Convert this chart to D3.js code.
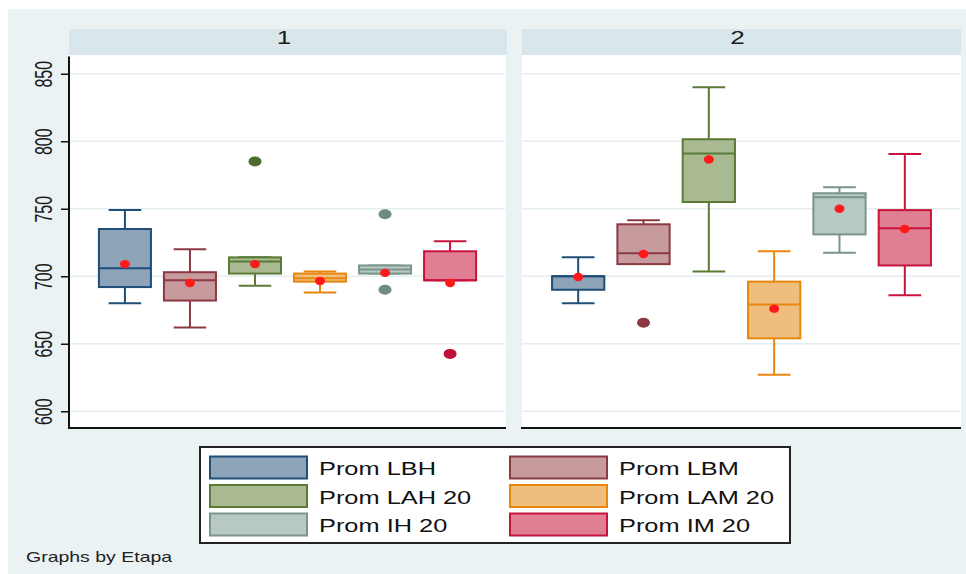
<!DOCTYPE html>
<html>
<head>
<meta charset="utf-8">
<script src="https://cdn.jsdelivr.net/npm/d3@7"></script>
<style>
  body { margin: 0; background: #fff; }
  svg { display: block; font-family: "Liberation Sans", Arial, sans-serif; }
</style>
</head>
<body>
<div id="chart"></div>
<script>
// panels (Etapa) and series
const etapas = ["1", "2"];
const series = ["Prom LBH", "Prom LBM", "Prom LAH 20", "Prom LAM 20", "Prom IH 20", "Prom IM 20"];
const yTicks = [600, 650, 700, 750, 800, 850];

// box statistics, one row per etapa, one value per series
const whiskerLow = [[680, 662, 693, 688, 702, 697], [680, 709, 703.5, 627, 717.5, 686]];
const q1 = [[692, 682, 702, 696, 702, 697], [690, 709, 755, 654, 731, 708]];
const median = [[706, 697, 711, 698.5, 705, 697], [700, 717, 791, 679, 758.5, 735.5]];
const q3 = [[735, 703, 714, 702, 708, 718.5], [700, 738.5, 801.5, 696, 761.5, 749]];
const whiskerHigh = [[749, 720, 714, 703.5, 708, 726], [714, 741.5, 840, 718.5, 766, 790.5]];
const means = [[709, 695, 709, 696.5, 702.5, 695], [699.5, 716.5, 786.5, 676, 750, 735]];
const outliers = [[[], [], [785], [], [746, 690], [642.5]], [[], [665.5], [], [], [], []]];

const strokeColors = ["#1f4e79", "#8b3a42", "#5a7a35", "#e8870f", "#7a958b", "#c8143c"];
const fillColors = ["#8da3b8", "#c79a9e", "#a9ba92", "#f0be7c", "#b8c9c4", "#e07f94"];
const outlierColors = ["#1f4e79", "#8b3a42", "#4e6b2e", "#e8870f", "#6f8c82", "#c0103a"];

const W = 966, H = 574, SX = 1.45;
const svg = d3.select("#chart").append("svg").attr("width", W).attr("height", H);

svg.append("rect").attr("x", 8).attr("y", 9).attr("width", W - 8).attr("height", H - 9).attr("fill", "#eaf2f3");

const y = d3.scaleLinear().domain([587.6, 863.9]).range([428, 55]);
const panels = [{ x0: 69, x1: 506, s0: 69, s1: 507 }, { x0: 522, x1: 961, s0: 522, s1: 961 }];

etapas.forEach((et, p) => {
    const pn = panels[p];
    const g = svg.append("g");
    const x = d3.scalePoint().domain(series).range([pn.x0, pn.x1]).padding(0.86);
    const bw = x.step() * 0.8, cw = x.step() * 0.5;

    g.append("rect").attr("x", pn.s0).attr("y", 29).attr("width", pn.s1 - pn.s0).attr("height", 26).attr("fill", "#d9e6ec");
    g.append("rect").attr("x", pn.x0).attr("y", 55).attr("width", pn.x1 - pn.x0).attr("height", 373).attr("fill", "#fff");
    g.append("text")
        .attr("transform", `translate(${(pn.s0 + pn.s1) / 2 - 4},43.5) scale(${SX},1)`)
        .attr("text-anchor", "middle").style("font-size", "18px").attr("fill", "#1a1a1a").text(et);

    // gridlines
    g.selectAll(".grid").data(yTicks).enter().append("line")
        .attr("x1", pn.x0).attr("x2", pn.x1 - 1)
        .attr("y1", d => y(d)).attr("y2", d => y(d))
        .attr("stroke", "#e4eef1").attr("stroke-width", 1.5);

    if (p === 0) {
        const ax = g.append("g").attr("transform", `translate(${pn.x0},0)`)
            .call(d3.axisLeft(y).tickValues(yTicks).tickSize(8).tickSizeOuter(0));
        ax.select(".domain").attr("stroke", "#111").attr("stroke-width", 2).attr("d", `M0,56.5V428`);
        ax.selectAll(".tick line").attr("stroke", "#111").attr("stroke-width", 1.5);
        ax.selectAll(".tick text")
            .attr("x", null).attr("dy", null)
            .attr("transform", `translate(-17,0) scale(${SX},1) rotate(-90)`)
            .attr("text-anchor", "middle")
            .style("font-size", "16px").attr("fill", "#1a1a1a");
    }
    g.append("line").attr("x1", pn.x0 - 1).attr("x2", pn.x1).attr("y1", 428).attr("y2", 428)
        .attr("stroke", "#111").attr("stroke-width", 2);

    series.forEach((s, i) => {
        const cx = x(s);
        const sc = strokeColors[i];
        const bg = g.append("g");
        // whiskers
        bg.append("line").attr("x1", cx).attr("x2", cx).attr("y1", y(q3[p][i])).attr("y2", y(whiskerHigh[p][i])).attr("stroke", sc).attr("stroke-width", 2);
        bg.append("line").attr("x1", cx).attr("x2", cx).attr("y1", y(q1[p][i])).attr("y2", y(whiskerLow[p][i])).attr("stroke", sc).attr("stroke-width", 2);
        [whiskerHigh[p][i], whiskerLow[p][i]].forEach(v => {
            bg.append("line").attr("x1", cx - cw / 2).attr("x2", cx + cw / 2).attr("y1", y(v)).attr("y2", y(v)).attr("stroke", sc).attr("stroke-width", 2);
        });
        // box
        bg.append("rect").attr("x", cx - bw / 2).attr("width", bw)
            .attr("y", y(q3[p][i])).attr("height", Math.max(1, y(q1[p][i]) - y(q3[p][i])))
            .attr("fill", fillColors[i]).attr("stroke", sc).attr("stroke-width", 2);
        bg.append("line").attr("x1", cx - bw / 2).attr("x2", cx + bw / 2).attr("y1", y(median[p][i])).attr("y2", y(median[p][i])).attr("stroke", sc).attr("stroke-width", 2);
        // outliers
        bg.selectAll(".out").data(outliers[p][i]).enter().append("ellipse")
            .attr("cx", cx).attr("cy", d => y(d)).attr("rx", 6.5).attr("ry", 5).attr("fill", outlierColors[i]);
        // mean
        bg.append("ellipse").attr("cx", cx).attr("cy", y(means[p][i])).attr("rx", 5).attr("ry", 4.2).attr("fill", "#ff1a1a");
    });
});

// legend
const lg = svg.append("g");
lg.append("rect").attr("x", 200).attr("y", 447).attr("width", 590).attr("height", 96)
    .attr("fill", "#fff").attr("stroke", "#222").attr("stroke-width", 2);
const colX = [210, 510], rowY = [456.5, 485, 513.5];
series.forEach((s, i) => {
    const cx = colX[i % 2], ry = rowY[Math.floor(i / 2)];
    lg.append("rect").attr("x", cx).attr("y", ry).attr("width", 97).attr("height", 22)
        .attr("fill", fillColors[i]).attr("stroke", strokeColors[i]).attr("stroke-width", 2);
    lg.append("text").attr("transform", `translate(${cx + 109},${ry + 18.5}) scale(${SX},1)`)
        .style("font-size", "17.5px").attr("fill", "#111").text(s);
});

svg.append("text").attr("transform", `translate(26,562) scale(${SX * 0.96},1)`)
    .style("font-size", "14px").attr("fill", "#222").text("Graphs by Etapa");
</script>
</body>
</html>
